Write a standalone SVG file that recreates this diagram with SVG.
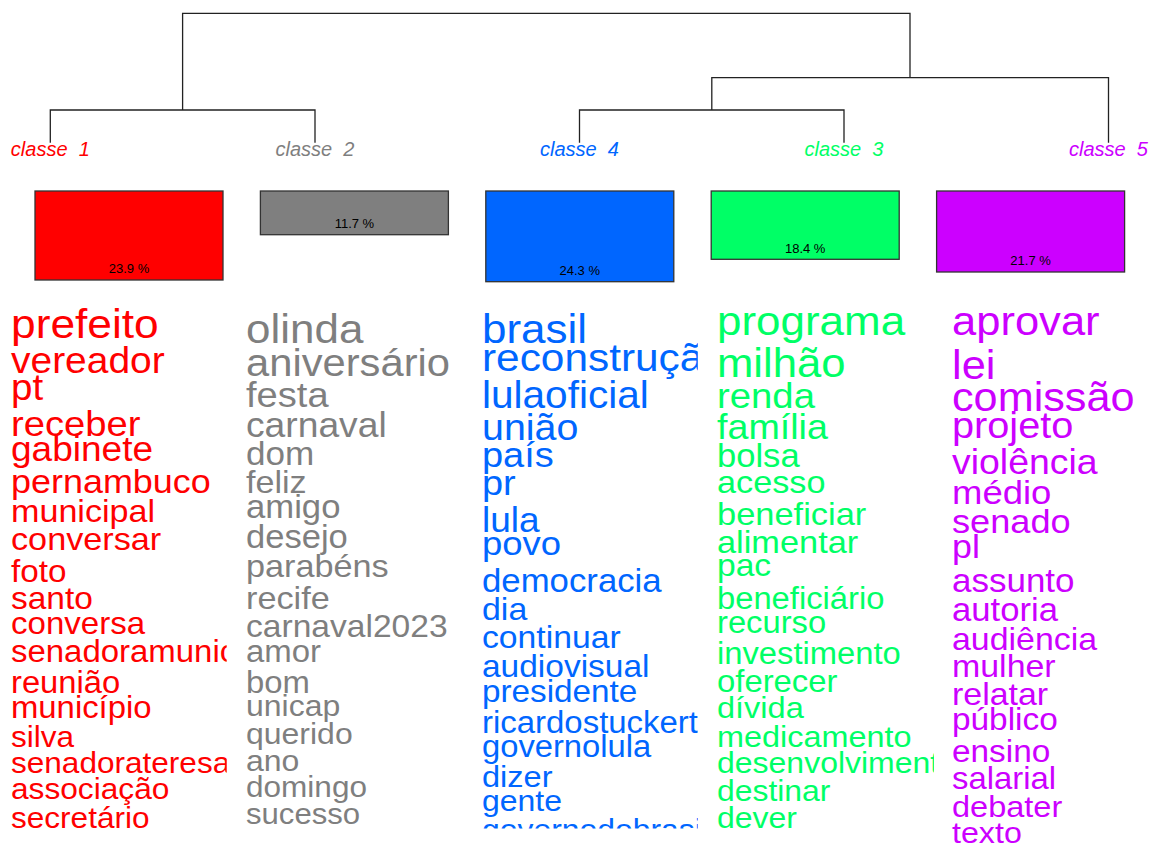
<svg xmlns="http://www.w3.org/2000/svg" width="1154" height="846" viewBox="0 0 1154 846">
  <style>
    text { font-family: "Liberation Sans", Arial, Helvetica, sans-serif; }
    .lbl { font-style: italic; font-size: 20px; text-anchor: middle; white-space: pre; }
    .pct { font-size: 13px; fill: #000; text-anchor: middle; }
    .bar { stroke: #333; stroke-width: 1.3; }
    .tree { fill: none; stroke: #222; stroke-width: 1.3; }
    .k1 { fill: #FF0000; }
    .k2 { fill: #7F7F7F; }
    .k3 { fill: #00FF66; }
    .k4 { fill: #0066FF; }
    .k5 { fill: #CC00FF; }
  </style>
  <defs>
    <clipPath id="clip1"><rect x="0" y="290" width="226.7" height="538.5"/></clipPath>
    <clipPath id="clip2"><rect x="240" y="290" width="222" height="538.5"/></clipPath>
    <clipPath id="clip4"><rect x="475" y="290" width="222.8" height="538.5"/></clipPath>
    <clipPath id="clip3"><rect x="710" y="290" width="224" height="538.5"/></clipPath>
    <clipPath id="clip5"><rect x="945" y="290" width="209" height="556"/></clipPath>
  </defs>

  <rect width="1154" height="846" fill="#fff"/>

  <!-- dendrogram branches -->
  <g id="connectors">
    <path class="tree" d="M182.6,110 V13.3 H910 V77.7"/>
    <path class="tree" d="M50.3,142.7 V110 H315 V142.7"/>
    <path class="tree" d="M711.8,110 V77.7 H1108.5 V142.7"/>
    <path class="tree" d="M579.5,142.7 V110 H844 V142.7"/>
  </g>

  <!-- class 1 -->
  <g id="classe1">
    <text class="lbl k1" x="50.3" y="155.7" xml:space="preserve">classe  1</text>
    <rect class="bar k1" x="35" y="191" width="188" height="89"/>
    <text class="pct" x="129" y="273.3">23.9 %</text>
    <g clip-path="url(#clip1)">
      <g class="k1" transform="translate(11 0) scale(1.07 1)">
        <text x="0" y="338" font-size="41.4">prefeito</text>
        <text x="0" y="373.3" font-size="36.4">vereador</text>
        <text x="0" y="400" font-size="36">pt</text>
        <text x="0" y="436" font-size="35.7">receber</text>
        <text x="0" y="460.7" font-size="34.6">gabinete</text>
        <text x="0" y="493.3" font-size="33.6">pernambuco</text>
        <text x="0" y="521.7" font-size="31.9">municipal</text>
        <text x="0" y="550" font-size="32">conversar</text>
        <text x="0" y="581.7" font-size="31.1">foto</text>
        <text x="0" y="609.3" font-size="31.3">santo</text>
        <text x="0" y="634" font-size="30.9">conversa</text>
        <text x="0" y="661.7" font-size="30.8">senadoramunic</text>
        <text x="0" y="692.7" font-size="30.6">reunião</text>
        <text x="0" y="717.7" font-size="30.7">município</text>
        <text x="0" y="747.3" font-size="29.5">silva</text>
        <text x="0" y="773.3" font-size="29.5">senadorateresa</text>
        <text x="0" y="799.3" font-size="29.6">associação</text>
        <text x="0" y="828.3" font-size="29.5">secretário</text>
      </g>
    </g>
  </g>

  <!-- class 2 -->
  <g id="classe2">
    <text class="lbl k2" x="315" y="155.7" xml:space="preserve">classe  2</text>
    <rect class="bar k2" x="260.4" y="191" width="188" height="43.7"/>
    <text class="pct" x="354.4" y="228">11.7 %</text>
    <g clip-path="url(#clip2)">
      <g class="k2" transform="translate(246 0) scale(1.07 1)">
        <text x="0" y="343.3" font-size="41.1">olinda</text>
        <text x="0" y="376" font-size="39">aniversário</text>
        <text x="0" y="407.3" font-size="35.6">festa</text>
        <text x="0" y="436.7" font-size="34.8">carnaval</text>
        <text x="0" y="465" font-size="32.8">dom</text>
        <text x="0" y="493.3" font-size="31.9">feliz</text>
        <text x="0" y="518.3" font-size="32.4">amigo</text>
        <text x="0" y="548.3" font-size="32.3">desejo</text>
        <text x="0" y="577" font-size="32">parabéns</text>
        <text x="0" y="609.3" font-size="32">recife</text>
        <text x="0" y="636.7" font-size="31.4">carnaval2023</text>
        <text x="0" y="661.7" font-size="30.8">amor</text>
        <text x="0" y="692.7" font-size="30.7">bom</text>
        <text x="0" y="716" font-size="29.9">unicap</text>
        <text x="0" y="744" font-size="29.9">querido</text>
        <text x="0" y="770.7" font-size="29.9">ano</text>
        <text x="0" y="796.7" font-size="29.5">domingo</text>
        <text x="0" y="824" font-size="29.1">sucesso</text>
      </g>
    </g>
  </g>

  <!-- class 4 -->
  <g id="classe4">
    <text class="lbl k4" x="579.5" y="155.7" xml:space="preserve">classe  4</text>
    <rect class="bar k4" x="485.8" y="191" width="188" height="90.7"/>
    <text class="pct" x="579.8" y="275">24.3 %</text>
    <g clip-path="url(#clip4)">
      <g class="k4" transform="translate(482 0) scale(1.07 1)">
        <text x="0" y="343.3" font-size="41.1">brasil</text>
        <text x="0" y="371" font-size="39.6">reconstruçã</text>
        <text x="0" y="408.3" font-size="37.9">lulaoficial</text>
        <text x="0" y="440" font-size="36.8">união</text>
        <text x="0" y="466.7" font-size="35.5">país</text>
        <text x="0" y="495" font-size="35.4">pr</text>
        <text x="0" y="531.7" font-size="34.6">lula</text>
        <text x="0" y="555" font-size="34.1">povo</text>
        <text x="0" y="591.7" font-size="32.5">democracia</text>
        <text x="0" y="620" font-size="31.7">dia</text>
        <text x="0" y="648.3" font-size="31.5">continuar</text>
        <text x="0" y="676.7" font-size="31.3">audiovisual</text>
        <text x="0" y="701.7" font-size="31.1">presidente</text>
        <text x="0" y="732.7" font-size="30.8">ricardostuckert</text>
        <text x="0" y="756.7" font-size="30.6">governolula</text>
        <text x="0" y="787.3" font-size="30.4">dizer</text>
        <text x="0" y="810.7" font-size="29.9">gente</text>
        <text x="0" y="840" font-size="29.8">governodobrasi</text>
      </g>
    </g>
  </g>

  <!-- class 3 -->
  <g id="classe3">
    <text class="lbl k3" x="844" y="155.7" xml:space="preserve">classe  3</text>
    <rect class="bar k3" x="711.2" y="191" width="188" height="68.3"/>
    <text class="pct" x="805.2" y="252.5">18.4 %</text>
    <g clip-path="url(#clip3)">
      <g class="k3" transform="translate(717 0) scale(1.07 1)">
        <text x="0" y="335" font-size="41.1">programa</text>
        <text x="0" y="377.3" font-size="40.8">milhão</text>
        <text x="0" y="408.3" font-size="35.8">renda</text>
        <text x="0" y="439.3" font-size="35.2">família</text>
        <text x="0" y="466.7" font-size="32.3">bolsa</text>
        <text x="0" y="493.3" font-size="32">acesso</text>
        <text x="0" y="525" font-size="32.2">beneficiar</text>
        <text x="0" y="553.3" font-size="32.1">alimentar</text>
        <text x="0" y="576" font-size="31.4">pac</text>
        <text x="0" y="609" font-size="30.6">beneficiário</text>
        <text x="0" y="633.3" font-size="30.6">recurso</text>
        <text x="0" y="664.3" font-size="30.6">investimento</text>
        <text x="0" y="691.7" font-size="30.7">oferecer</text>
        <text x="0" y="718.3" font-size="30.4">dívida</text>
        <text x="0" y="746.7" font-size="30.3">medicamento</text>
        <text x="0" y="773.3" font-size="29.9">desenvolviment</text>
        <text x="0" y="800.7" font-size="29.8">destinar</text>
        <text x="0" y="828.3" font-size="29.9">dever</text>
      </g>
    </g>
  </g>

  <!-- class 5 -->
  <g id="classe5">
    <text class="lbl k5" x="1108.5" y="155.7" xml:space="preserve">classe  5</text>
    <rect class="bar k5" x="936.6" y="191" width="188" height="81"/>
    <text class="pct" x="1030.6" y="265.3">21.7 %</text>
    <g clip-path="url(#clip5)">
      <g class="k5" transform="translate(952 0) scale(1.07 1)">
        <text x="0" y="335" font-size="40.7">aprovar</text>
        <text x="0" y="379" font-size="40.5">lei</text>
        <text x="0" y="411" font-size="40.4">comissão</text>
        <text x="0" y="437.7" font-size="37.1">projeto</text>
        <text x="0" y="474" font-size="35">violência</text>
        <text x="0" y="504" font-size="34.1">médio</text>
        <text x="0" y="533.3" font-size="33.8">senado</text>
        <text x="0" y="558.3" font-size="33.5">pl</text>
        <text x="0" y="591.7" font-size="32.7">assunto</text>
        <text x="0" y="621" font-size="32.4">autoria</text>
        <text x="0" y="650" font-size="31.7">audiência</text>
        <text x="0" y="677.3" font-size="31.7">mulher</text>
        <text x="0" y="705" font-size="31.7">relatar</text>
        <text x="0" y="730" font-size="31.2">público</text>
        <text x="0" y="762.3" font-size="31.2">ensino</text>
        <text x="0" y="789.3" font-size="30.7">salarial</text>
        <text x="0" y="816.7" font-size="30.4">debater</text>
        <text x="0" y="842.7" font-size="30.1">texto</text>
      </g>
    </g>
  </g>
</svg>
